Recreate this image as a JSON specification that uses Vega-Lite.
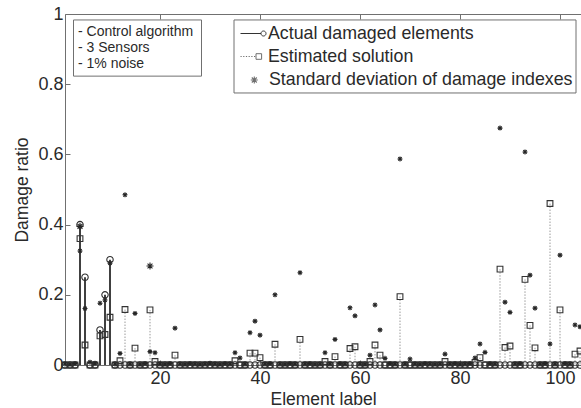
{
  "$schema": "https://vega.github.io/schema/vega-lite/v6.json",
  "width": 516,
  "height": 351,
  "autosize": {"type": "none"},
  "padding": {"left": 65, "top": 14, "right": 0, "bottom": 43},
  "background": "white",
  "config": {
    "view": {"stroke": null},
    "font": "Liberation Sans",
    "axis": {
      "domainColor": "#707070",
      "tickColor": "#707070",
      "labelColor": "#2a2a2a",
      "titleColor": "#2a2a2a",
      "labelFont": "Liberation Sans",
      "titleFont": "Liberation Sans",
      "labelFontSize": 18,
      "titleFontSize": 17.5,
      "titleFontWeight": "normal",
      "grid": false,
      "tickSize": -5
    },
    "legend": {
      "labelFont": "Liberation Sans",
      "labelFontSize": 17.8,
      "labelColor": "#2a2a2a",
      "labelLimit": 500,
      "labelOffset": 9,
      "symbolSize": 400,
      "symbolStrokeWidth": 1,
      "symbolStrokeColor": "#333333",
      "symbolFillColor": "transparent",
      "padding": 0
    }
  },
  "resolve": {"axis": {"x": "independent", "y": "independent"}},
  "data": {
    "values": [
      {"el": 1, "act": 0, "est": 0, "sd": 0.003},
      {"el": 2, "act": 0, "est": 0, "sd": 0.002},
      {"el": 3, "act": 0, "est": 0, "sd": 0.004},
      {"el": 4, "act": 0.4, "est": 0.36, "sd": 0.325, "sd2": 0.395},
      {"el": 5, "act": 0.25, "est": 0.057, "sd": 0.161},
      {"el": 6, "act": 0, "est": 0, "sd": 0.008},
      {"el": 7, "act": 0, "est": 0, "sd": 0.005},
      {"el": 8, "act": 0.1, "est": 0.083, "sd": 0.176},
      {"el": 9, "act": 0.2, "est": 0.087, "sd": 0.185},
      {"el": 10, "act": 0.3, "est": 0.136, "sd": 0.29},
      {"el": 11, "act": 0, "est": 0, "sd": 0.003},
      {"el": 12, "act": 0, "est": 0.012, "sd": 0.033},
      {"el": 13, "act": 0, "est": 0.158, "sd": 0.485},
      {"el": 14, "act": 0, "est": 0, "sd": 0.003},
      {"el": 15, "act": 0, "est": 0.048, "sd": 0.147},
      {"el": 16, "act": 0, "est": 0, "sd": 0.002},
      {"el": 17, "act": 0, "est": 0, "sd": 0.004},
      {"el": 18, "act": 0, "est": 0.157, "sd": 0.038, "sd2": 0.282},
      {"el": 19, "act": 0, "est": 0.01, "sd": 0.035},
      {"el": 20, "act": 0, "est": 0, "sd": 0.003},
      {"el": 21, "act": 0, "est": 0, "sd": 0.002},
      {"el": 22, "act": 0, "est": 0, "sd": 0.004},
      {"el": 23, "act": 0, "est": 0.028, "sd": 0.105},
      {"el": 24, "act": 0, "est": 0, "sd": 0.003},
      {"el": 25, "act": 0, "est": 0, "sd": 0.002},
      {"el": 26, "act": 0, "est": 0, "sd": 0.004},
      {"el": 27, "act": 0, "est": 0, "sd": 0.003},
      {"el": 28, "act": 0, "est": 0, "sd": 0.002},
      {"el": 29, "act": 0, "est": 0, "sd": 0.003},
      {"el": 30, "act": 0, "est": 0, "sd": 0.005},
      {"el": 31, "act": 0, "est": 0, "sd": 0.003},
      {"el": 32, "act": 0, "est": 0, "sd": 0.002},
      {"el": 33, "act": 0, "est": 0, "sd": 0.004},
      {"el": 34, "act": 0, "est": 0, "sd": 0.003},
      {"el": 35, "act": 0, "est": 0.012, "sd": 0.035},
      {"el": 36, "act": 0, "est": 0, "sd": 0.02},
      {"el": 37, "act": 0, "est": 0, "sd": 0.003},
      {"el": 38, "act": 0, "est": 0.034, "sd": 0.092},
      {"el": 39, "act": 0, "est": 0.034, "sd": 0.125},
      {"el": 40, "act": 0, "est": 0.021, "sd": 0.085},
      {"el": 41, "act": 0, "est": 0, "sd": 0.003},
      {"el": 42, "act": 0, "est": 0, "sd": 0.004},
      {"el": 43, "act": 0, "est": 0.059, "sd": 0.2},
      {"el": 44, "act": 0, "est": 0, "sd": 0.003},
      {"el": 45, "act": 0, "est": 0, "sd": 0.002},
      {"el": 46, "act": 0, "est": 0, "sd": 0.004},
      {"el": 47, "act": 0, "est": 0, "sd": 0.003},
      {"el": 48, "act": 0, "est": 0.073, "sd": 0.263},
      {"el": 49, "act": 0, "est": 0, "sd": 0.003},
      {"el": 50, "act": 0, "est": 0, "sd": 0.004},
      {"el": 51, "act": 0, "est": 0, "sd": 0.002},
      {"el": 52, "act": 0, "est": 0, "sd": 0.003},
      {"el": 53, "act": 0, "est": 0.01, "sd": 0.035},
      {"el": 54, "act": 0, "est": 0, "sd": 0.003},
      {"el": 55, "act": 0, "est": 0.024, "sd": 0.073},
      {"el": 56, "act": 0, "est": 0, "sd": 0.004},
      {"el": 57, "act": 0, "est": 0, "sd": 0.003},
      {"el": 58, "act": 0, "est": 0.047, "sd": 0.163},
      {"el": 59, "act": 0, "est": 0.052, "sd": 0.14},
      {"el": 60, "act": 0, "est": 0, "sd": 0.003},
      {"el": 61, "act": 0, "est": 0, "sd": 0.002},
      {"el": 62, "act": 0, "est": 0.01, "sd": 0.028},
      {"el": 63, "act": 0, "est": 0.057, "sd": 0.171},
      {"el": 64, "act": 0, "est": 0.028, "sd": 0.1},
      {"el": 65, "act": 0, "est": 0, "sd": 0.019},
      {"el": 66, "act": 0, "est": 0, "sd": 0.004},
      {"el": 67, "act": 0, "est": 0, "sd": 0.003},
      {"el": 68, "act": 0, "est": 0.195, "sd": 0.587},
      {"el": 69, "act": 0, "est": 0, "sd": 0.003},
      {"el": 70, "act": 0, "est": 0, "sd": 0.017},
      {"el": 71, "act": 0, "est": 0, "sd": 0.003},
      {"el": 72, "act": 0, "est": 0, "sd": 0.002},
      {"el": 73, "act": 0, "est": 0, "sd": 0.004},
      {"el": 74, "act": 0, "est": 0, "sd": 0.003},
      {"el": 75, "act": 0, "est": 0, "sd": 0.002},
      {"el": 76, "act": 0, "est": 0, "sd": 0.003},
      {"el": 77, "act": 0, "est": 0.01, "sd": 0.031},
      {"el": 78, "act": 0, "est": 0, "sd": 0.003},
      {"el": 79, "act": 0, "est": 0, "sd": 0.004},
      {"el": 80, "act": 0, "est": 0, "sd": 0.002},
      {"el": 81, "act": 0, "est": 0, "sd": 0.003},
      {"el": 82, "act": 0, "est": 0, "sd": 0.004},
      {"el": 83, "act": 0, "est": 0.007, "sd": 0.02},
      {"el": 84, "act": 0, "est": 0.021, "sd": 0.06},
      {"el": 85, "act": 0, "est": 0, "sd": 0.036},
      {"el": 86, "act": 0, "est": 0, "sd": 0.004},
      {"el": 87, "act": 0, "est": 0, "sd": 0.003},
      {"el": 88, "act": 0, "est": 0.273, "sd": 0.675},
      {"el": 89, "act": 0, "est": 0.05, "sd": 0.179},
      {"el": 90, "act": 0, "est": 0.054, "sd": 0.15},
      {"el": 91, "act": 0, "est": 0, "sd": 0.003},
      {"el": 92, "act": 0, "est": 0, "sd": 0.004},
      {"el": 93, "act": 0, "est": 0.244, "sd": 0.607},
      {"el": 94, "act": 0, "est": 0.113, "sd": 0.256},
      {"el": 95, "act": 0, "est": 0.049, "sd": 0.162},
      {"el": 96, "act": 0, "est": 0, "sd": 0.003},
      {"el": 97, "act": 0, "est": 0, "sd": 0.004},
      {"el": 98, "act": 0, "est": 0.46, "sd": 0.06},
      {"el": 99, "act": 0, "est": 0, "sd": 0.003},
      {"el": 100, "act": 0, "est": 0.157, "sd": 0.313},
      {"el": 101, "act": 0, "est": 0, "sd": 0.004},
      {"el": 102, "act": 0, "est": 0, "sd": 0.003},
      {"el": 103, "act": 0, "est": 0.031, "sd": 0.114},
      {"el": 104, "act": 0, "est": 0.04, "sd": 0.109}
    ]
  },
  "layer": [
    {
      "transform": [{"filter": "datum.est > 0"}],
      "mark": {"type": "rule", "stroke": "#9a9a9a", "strokeWidth": 1, "strokeDash": [1.5, 1.5]},
      "encoding": {
        "x": {
          "field": "el", "type": "quantitative",
          "scale": {"domain": [1, 104.2], "nice": false, "zero": false},
          "axis": {"orient": "top", "values": [20, 40, 60, 80, 100], "labels": false, "title": null}
        },
        "y": {
          "field": "est", "type": "quantitative", "scale": {"domain": [0, 1], "nice": false},
          "axis": {"orient": "left", "values": [0, 0.2, 0.4, 0.6, 0.8, 1], "format": "~g", "title": "Damage ratio", "labelPadding": 7, "titlePadding": 6}
        },
        "y2": {"datum": 0}
      }
    },
    {
      "transform": [{"filter": "datum.act > 0"}],
      "mark": {"type": "rule", "stroke": "#404040", "strokeWidth": 2},
      "encoding": {
        "x": {"field": "el", "type": "quantitative", "axis": null},
        "y": {"field": "act", "type": "quantitative", "axis": null},
        "y2": {"datum": 0}
      }
    },
    {
      "data": {"values": [{"note": "legend box"}]},
      "mark": {"type": "rect", "fill": "white", "stroke": "#707070", "strokeWidth": 1},
      "encoding": {
        "x": {"datum": 34.8, "type": "quantitative", "axis": null},
        "x2": {"datum": 103.2},
        "y": {"datum": 0.983, "type": "quantitative", "axis": null},
        "y2": {"datum": 0.775}
      }
    },
    {
      "transform": [
        {"fold": ["act", "est", "sd", "sd2"], "as": ["key", "value"]},
        {"filter": "isValid(datum.value)"}
      ],
      "mark": {"type": "point", "filled": false, "clip": false},
      "encoding": {
        "x": {
          "field": "el", "type": "quantitative",
          "axis": {"orient": "bottom", "values": [20, 40, 60, 80, 100], "title": "Element label", "labelPadding": 9, "titlePadding": 3}
        },
        "y": {"field": "value", "type": "quantitative", "axis": null},
        "shape": {
          "field": "key", "type": "nominal",
          "scale": {
            "domain": ["act", "est", "sd", "sd2"],
            "range": ["circle", "square", "M0,-1L0,1M-1,0L1,0M-0.7,-0.7L0.7,0.7M-0.7,0.7L0.7,-0.7", "M0,-1L0,1M-1,0L1,0M-0.7,-0.7L0.7,0.7M-0.7,0.7L0.7,-0.7"]
          },
          "legend": null
        },
        "size": {
          "field": "key", "type": "ordinal",
          "scale": {"domain": ["sd2", "act", "est", "sd"], "range": [49, 25, 36, 49]},
          "legend": null
        },
        "opacity": {
          "field": "key", "type": "ordinal",
          "scale": {"domain": ["sd", "est", "act", "sd2"], "range": [1, 1, 1, 1]},
          "legend": {
            "orient": "none", "legendX": 173, "legendY": 9,
            "title": null,
            "values": ["act"],
            "labelExpr": "'Actual damaged elements'",
            "symbolType": "M-0.8,0L1.25,0M1.75,0A0.25,0.25,0,1,1,1.25,0A0.25,0.25,0,1,1,1.75,0"
          }
        },
        "color": {
          "field": "key", "type": "nominal",
          "scale": {"domain": ["est", "sd", "act", "sd2"], "range": ["#333333", "#262626", "#2e2e2e", "#262626"]},
          "legend": {
            "orient": "none", "legendX": 173, "legendY": 32,
            "title": null,
            "values": ["est"],
            "labelExpr": "'Estimated solution'",
            "symbolType": "M-0.8,0L-0.68,0M-0.53,0L-0.41,0M-0.26,0L-0.14,0M0.01,0L0.13,0M0.28,0L0.4,0M0.55,0L0.67,0M0.75,-0.28L1.31,-0.28L1.31,0.28L0.75,0.28Z"
          }
        },
        "strokeWidth": {
          "field": "key", "type": "ordinal",
          "scale": {"domain": ["sd2", "sd", "est", "act"], "range": [1.1, 1.1, 1.1, 1.1]},
          "legend": {
            "orient": "none", "legendX": 173, "legendY": 55,
            "title": null,
            "values": ["sd"],
            "labelExpr": "'Standard deviation of damage indexes'",
            "symbolType": "M0.53,-0.35L0.53,0.35M0.18,0L0.88,0M0.28,-0.25L0.78,0.25M0.28,0.25L0.78,-0.25"
          }
        }
      }
    },
    {
      "data": {"values": [{"note": "box"}]},
      "mark": {"type": "rect", "fill": "white", "stroke": "#707070", "strokeWidth": 1},
      "encoding": {
        "x": {"datum": 2.7, "type": "quantitative", "axis": null},
        "x2": {"datum": 28.3},
        "y": {"datum": 0.983, "type": "quantitative", "axis": null},
        "y2": {"datum": 0.823}
      }
    },
    {
      "data": {"values": [{"note": "- Control algorithm\n- 3 Sensors\n- 1% noise"}]},
      "mark": {"type": "text", "align": "left", "baseline": "middle", "fontSize": 14, "lineHeight": 16, "font": "Liberation Sans", "color": "#2a2a2a", "lineBreak": "\n"},
      "encoding": {
        "x": {"datum": 3.6, "type": "quantitative", "axis": null},
        "y": {"datum": 0.949, "type": "quantitative", "axis": null},
        "text": {"field": "note"}
      }
    }
  ]
}
